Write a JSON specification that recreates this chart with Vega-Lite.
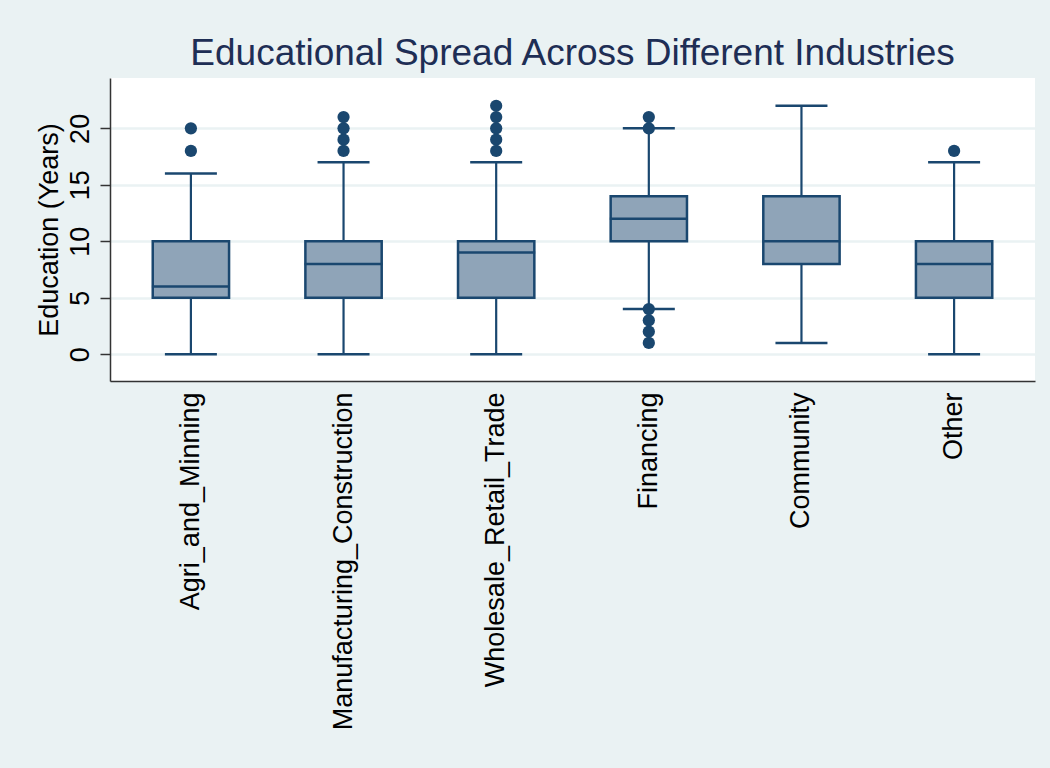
{
  "$schema": "https://vega.github.io/schema/vega-lite/v6.json",
  "width": 925,
  "height": 303,
  "autosize": {"type": "none"},
  "padding": {"left": 110, "top": 78, "right": 15, "bottom": 387},
  "background": "#EAF2F3",
  "title": {
    "text": "Educational Spread Across Different Industries",
    "font": "Liberation Sans",
    "fontSize": 37,
    "fontWeight": "normal",
    "color": "#1E2E55",
    "anchor": "middle",
    "baseline": "alphabetic",
    "offset": 12,
    "dy": 36
  },
  "datasets": {
    "boxes": [
      {"industry": "Agri_and_Minning", "lower": 0, "q1": 5, "median": 6, "q3": 10, "upper": 16},
      {"industry": "Manufacturing_Construction", "lower": 0, "q1": 5, "median": 8, "q3": 10, "upper": 17},
      {"industry": "Wholesale_Retail_Trade", "lower": 0, "q1": 5, "median": 9, "q3": 10, "upper": 17},
      {"industry": "Financing", "lower": 4, "q1": 10, "median": 12, "q3": 14, "upper": 20},
      {"industry": "Community", "lower": 1, "q1": 8, "median": 10, "q3": 14, "upper": 22},
      {"industry": "Other", "lower": 0, "q1": 5, "median": 8, "q3": 10, "upper": 17}
    ],
    "outliers": [
      {"industry": "Agri_and_Minning", "education": 18},
      {"industry": "Agri_and_Minning", "education": 20},
      {"industry": "Manufacturing_Construction", "education": 18},
      {"industry": "Manufacturing_Construction", "education": 19},
      {"industry": "Manufacturing_Construction", "education": 20},
      {"industry": "Manufacturing_Construction", "education": 21},
      {"industry": "Wholesale_Retail_Trade", "education": 18},
      {"industry": "Wholesale_Retail_Trade", "education": 19},
      {"industry": "Wholesale_Retail_Trade", "education": 20},
      {"industry": "Wholesale_Retail_Trade", "education": 21},
      {"industry": "Wholesale_Retail_Trade", "education": 22},
      {"industry": "Financing", "education": 1},
      {"industry": "Financing", "education": 2},
      {"industry": "Financing", "education": 3},
      {"industry": "Financing", "education": 4},
      {"industry": "Financing", "education": 20},
      {"industry": "Financing", "education": 21},
      {"industry": "Other", "education": 18}
    ]
  },
  "encoding": {
    "x": {
      "field": "industry",
      "type": "nominal",
      "sort": ["Agri_and_Minning", "Manufacturing_Construction", "Wholesale_Retail_Trade", "Financing", "Community", "Other"],
      "scale": {"type": "band", "paddingInner": 0, "paddingOuter": 0.03},
      "axis": {
        "title": null,
        "labelAngle": -90,
        "ticks": false,
        "labelPadding": 11,
        "labelFont": "Liberation Sans",
        "labelFontSize": 27,
        "labelColor": "#000000",
        "labelLimit": 0,
        "domainColor": "#333333",
        "domainWidth": 1.5,
        "grid": false
      }
    }
  },
  "layer": [
    {
      "data": {"name": "boxes"},
      "mark": {"type": "rule", "color": "#1A476F", "strokeWidth": 2.2},
      "encoding": {
        "y": {
          "field": "lower",
          "type": "quantitative",
          "scale": {"domain": [-2.37, 24.46], "nice": false, "zero": false},
          "axis": {
            "title": "Education (Years)",
            "titleFont": "Liberation Sans",
            "titleFontSize": 27,
            "titleFontWeight": "normal",
            "titleColor": "#000000",
            "titlePadding": 3,
            "values": [0, 5, 10, 15, 20],
            "labelAngle": -90,
            "labelFont": "Liberation Sans",
            "labelFontSize": 27,
            "labelColor": "#000000",
            "labelPadding": 6,
            "tickSize": 10,
            "tickColor": "#333333",
            "tickWidth": 1.5,
            "domainColor": "#333333",
            "domainWidth": 1.5,
            "grid": true,
            "gridColor": "#EAF2F3",
            "gridWidth": 2.5
          }
        },
        "y2": {"field": "upper"}
      }
    },
    {
      "data": {"name": "boxes"},
      "mark": {"type": "bar", "width": {"band": 0.5}, "fill": "#8FA4B8", "stroke": "#1A476F", "strokeWidth": 2.5},
      "encoding": {
        "y": {"field": "q1", "type": "quantitative"},
        "y2": {"field": "q3"}
      }
    },
    {
      "data": {"name": "boxes"},
      "mark": {"type": "tick", "color": "#1A476F", "size": 78, "thickness": 2.5, "opacity": 1},
      "encoding": {"y": {"field": "median", "type": "quantitative"}}
    },
    {
      "data": {"name": "boxes"},
      "mark": {"type": "tick", "color": "#1A476F", "size": 52, "thickness": 2.5, "opacity": 1},
      "encoding": {"y": {"field": "lower", "type": "quantitative"}}
    },
    {
      "data": {"name": "boxes"},
      "mark": {"type": "tick", "color": "#1A476F", "size": 52, "thickness": 2.5, "opacity": 1},
      "encoding": {"y": {"field": "upper", "type": "quantitative"}}
    },
    {
      "data": {"name": "outliers"},
      "mark": {"type": "circle", "color": "#1A476F", "size": 150, "opacity": 1},
      "encoding": {"y": {"field": "education", "type": "quantitative"}}
    }
  ],
  "config": {
    "view": {"fill": "#FFFFFF", "stroke": null}
  }
}
